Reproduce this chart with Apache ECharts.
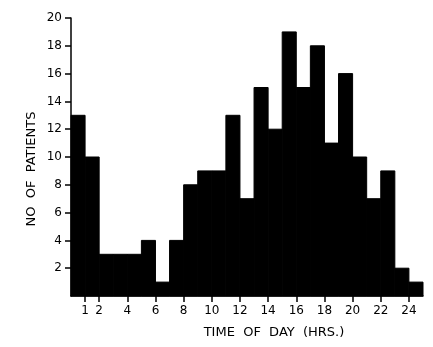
<!DOCTYPE html>
<html>
<head>
<meta charset="utf-8">
<script src="https://cdn.jsdelivr.net/npm/echarts@6/dist/echarts.min.js"></script>
<style>
html, body { margin: 0; padding: 0; background: #fff; }
#chart { width: 433px; height: 347px; }
</style>
</head>
<body>
<div id="chart"></div>
<script>
// hour bins (start of each 1-hour bin) and patient counts
const hours = [0, 1, 2, 3, 4, 5, 6, 7, 8, 9, 10, 11, 12, 13, 14, 15, 16, 17, 18, 19, 20, 21, 22, 23, 24]
const patients = [13, 10, 3, 3, 3, 4, 1, 4, 8, 9, 9, 13, 7, 15, 12, 19, 15, 18, 11, 16, 10, 7, 9, 2, 1]
const xTicks = [1, 2, 4, 6, 8, 10, 12, 14, 16, 18, 20, 22, 24]
const yTicks = [2, 4, 6, 8, 10, 12, 14, 16, 18, 20]

const font = 'DejaVu Sans'
const ec = echarts.init(document.getElementById('chart'))

ec.setOption({
    animation: false,
    grid: { left: 71, right: 10, top: 18, bottom: 51 },
    xAxis: {
        type: 'value',
        min: 0,
        max: 25,
        splitLine: { show: false },
        axisLine: { lineStyle: { color: '#000', width: 1.5 } },
        axisTick: { customValues: xTicks, length: 6, lineStyle: { color: '#000', width: 1.5 } },
        axisLabel: { customValues: xTicks, color: '#000', fontSize: 12, fontFamily: font, margin: 9 }
    },
    yAxis: {
        type: 'value',
        min: 0,
        max: 20,
        interval: 2,
        splitLine: { show: false },
        axisLine: { show: true, lineStyle: { color: '#000', width: 1.5 } },
        axisTick: { customValues: yTicks, length: 6, lineStyle: { color: '#000', width: 1.5 } },
        axisLabel: { customValues: yTicks, color: '#000', fontSize: 12, fontFamily: font, margin: 9 }
    },
    graphic: [
        {
            type: 'text',
            x: 32, y: 169,
            rotation: Math.PI / 2,
            style: {
                text: 'NO  OF  PATIENTS',
                fill: '#000',
                font: '13px "' + font + '"',
                align: 'center',
                verticalAlign: 'middle'
            }
        },
        {
            type: 'text',
            x: 274, y: 333,
            style: {
                text: 'TIME  OF  DAY  (HRS.)',
                fill: '#000',
                font: '13px "' + font + '"',
                align: 'center',
                verticalAlign: 'middle'
            }
        }
    ],
    series: [{
        type: 'custom',
        data: hours.map((h, i) => [h, patients[i]]),
        renderItem (params, api) {
            const h = api.value(0)
            const p0 = api.coord([h, 0])
            const p1 = api.coord([h + 1, api.value(1)])
            return {
                type: 'rect',
                shape: { x: p0[0], y: p1[1], width: p1[0] - p0[0], height: p0[1] - p1[1] },
                style: { fill: '#000', stroke: '#000', lineWidth: 1 }
            }
        }
    }]
})
</script>
</body>
</html>
